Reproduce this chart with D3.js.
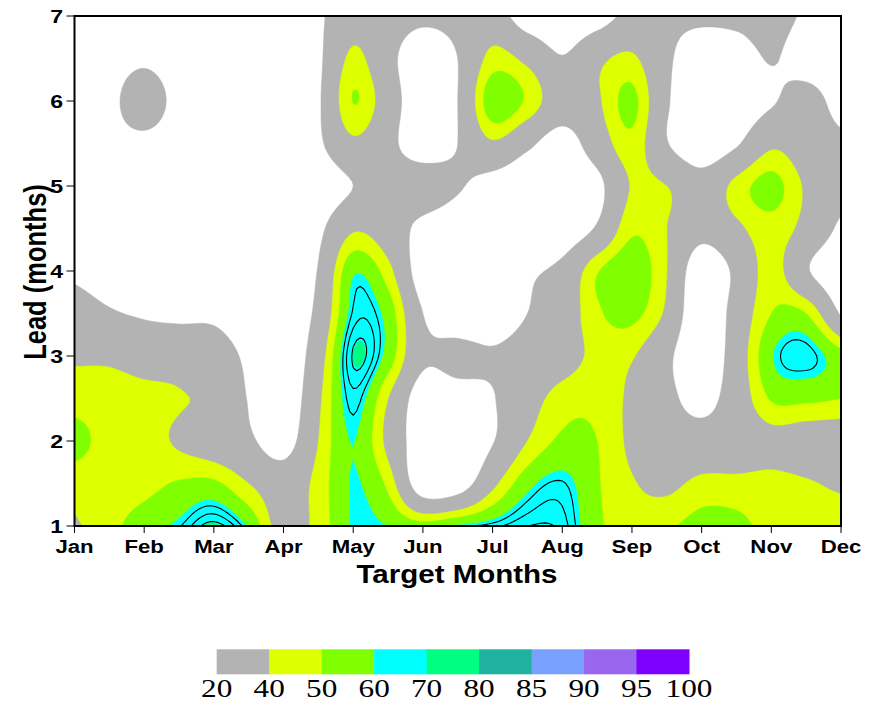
<!DOCTYPE html>
<html>
<head>
<meta charset="utf-8">
<script src="https://cdn.jsdelivr.net/npm/d3@7"></script>
<style>
  body { margin: 0; background: #fff; }
  .sans { font-family: "Liberation Sans", Arial, sans-serif; }
  .serif { font-family: "Liberation Serif", "Times New Roman", serif; }
</style>
</head>
<body>
<svg id="chart" width="874" height="704"></svg>
<script>
// Target months along x, lead time (months) along y
const months = ["Jan","Feb","Mar","Apr","May","Jun","Jul","Aug","Sep","Oct","Nov","Dec"];
const leadTicks = [1, 2, 3, 4, 5, 6, 7];

// Skill grid sampled every half month (Jan .. Dec, 23 columns) and every half lead month.
const lead1_0 = [38, 47, 55, 62, 71.5, 59, 33, 44, 61, 60, 55, 61, 64.5, 69.5, 68, 52, 45, 48, 55, 54, 45, 44, 46];
const lead1_5 = [45, 46, 47, 51, 52, 40, 30, 44, 60.5, 47, 8, 10, 36, 57, 63, 51, 41, 37, 43, 43, 43, 41, 38];
const lead2_0 = [53, 47, 45, 38, 31, 23, 12, 40, 60.2, 36, 8, 6, 19, 40, 52, 50, 37, 30, 28, 30, 35, 32, 30];
const lead2_5 = [46, 46, 44, 41, 36, 19, 6, 37, 64.5, 40, 10, 12, 19, 33, 45, 47, 37, 25, 14, 30, 51, 52, 50];
const lead3_0 = [38, 37, 33, 33, 30, 16, 5, 32, 70.2, 56, 24, 26, 22, 28, 33, 43, 41, 24, 6, 30, 59, 64.5, 54];
const lead3_5 = [30, 22, 18, 16, 16, 8, 5, 25, 63.3, 56, 20, 8, 10, 20, 30, 48, 53, 37, 5, 28, 50, 50, 18];
const lead4_0 = [16, 10, 7, 5, 5, 5, 5, 21, 58.5, 44, 10, 5, 8, 17, 25, 49, 57, 40, 8, 24, 45, 22, 5];
const lead4_5 = [8, 6, 5, 5, 5, 5, 5, 16, 38, 30, 15, 8, 5, 5, 8, 22, 48, 40, 26, 37, 46, 35, 16];
const lead5_0 = [6, 6, 5, 5, 5, 5, 5, 8, 20, 28, 30, 22, 12, 5, 5, 15, 41, 40, 28, 44, 54, 38, 28];
const lead5_5 = [6, 12, 14, 8, 5, 5, 5, 17, 37, 25, 10, 20, 38, 24, 12, 30, 47, 21, 8, 18, 37, 30, 24];
const lead6_0 = [6, 14, 32, 12, 5, 5, 5, 18, 50.3, 30, 8, 20, 57, 48, 30, 38, 53, 22, 8, 8, 18, 27, 12];
const lead6_5 = [6, 10, 16, 8, 5, 5, 5, 17, 43, 25, 10, 20, 44, 36, 21, 36, 42, 23, 10, 12, 21, 12, 8];
const lead7_0 = [6, 6, 6, 5, 5, 5, 5, 17, 32, 28, 24, 26, 30, 8, 5, 10, 26, 24, 24, 25, 28, 17, 10];

// Filled contour classes and their colours; black isolines drawn on top
const levels = [20, 40, 50, 60, 70, 80, 85, 90, 95, 100];
const levelColors = ["#b3b3b3", "#ddff00", "#80ff00", "#00ffff", "#00ff80", "#20b2a0", "#77a0ff", "#9966ee", "#8000ff"];
const lineLevels = [62.5, 66, 69.5];

const rows = [lead1_0, lead1_5, lead2_0, lead2_5, lead3_0, lead3_5, lead4_0,
              lead4_5, lead5_0, lead5_5, lead6_0, lead6_5, lead7_0];

const svg = d3.select("#chart");
const plot = { left: 74.5, right: 841, top: 16, bottom: 526 };

const x = d3.scaleLinear().domain([1, 12]).range([plot.left, plot.right]);
const y = d3.scaleLinear().domain([1, 7]).range([plot.bottom, plot.top]);

// Smooth the coarse grid with Catmull-Rom splines before contouring
const F = 10;
function cr(p0, p1, p2, p3, t) {
  const t2 = t * t, t3 = t2 * t;
  return 0.5 * (2 * p1 + (-p0 + p2) * t + (2 * p0 - 5 * p1 + 4 * p2 - p3) * t2 + (-p0 + 3 * p1 - 3 * p2 + p3) * t3);
}
function resample(arr) {
  const n = arr.length, out = [];
  const g = k => k < 0 ? 2 * arr[0] - arr[1] : k > n - 1 ? 2 * arr[n - 1] - arr[n - 2] : arr[k];
  for (let s = 0; s <= (n - 1) * F; s++) {
    let i = Math.floor(s / F); if (i >= n - 1) i = n - 2;
    const t = s / F - i;
    out.push(cr(g(i - 1), g(i), g(i + 1), g(i + 2), t));
  }
  return out;
}
const nCol = rows[0].length, nRow = rows.length;
const NX = (nCol - 1) * F + 1, NY = (nRow - 1) * F + 1;
const hRows = rows.map(resample);                 // bottom -> top
const grid = new Float64Array(NX * NY);
for (let i = 0; i < NX; i++) {
  const col = resample(hRows.map(r => r[i]));     // bottom -> top
  for (let j = 0; j < NY; j++) grid[j * NX + i] = col[NY - 1 - j]; // j = 0 at top
}

const toMonth = gx => 1 + (gx - 0.5) / F * 0.5;
const toLead = gy => 7 - (gy - 0.5) / F * 0.5;
const path = d3.geoPath(d3.geoTransform({
  point(px, py) { this.stream.point(x(toMonth(px)), y(toLead(py))); }
}));

svg.append("defs").append("clipPath").attr("id", "plotClip")
  .append("rect").attr("x", plot.left).attr("y", plot.top)
  .attr("width", plot.right - plot.left).attr("height", plot.bottom - plot.top);

const g = svg.append("g").attr("clip-path", "url(#plotClip)");
g.append("rect").attr("x", plot.left).attr("y", plot.top)
  .attr("width", plot.right - plot.left).attr("height", plot.bottom - plot.top)
  .attr("fill", "#fff");

const fills = d3.contours().size([NX, NY]).thresholds(levels.slice(0, -1))(Array.from(grid));
g.selectAll("path.band").data(fills).join("path")
  .attr("class", "band")
  .attr("d", path)
  .attr("fill", d => levelColors[levels.indexOf(d.value)])
  .attr("stroke", d => levelColors[levels.indexOf(d.value)])
  .attr("stroke-width", 0.5);

const isolines = d3.contours().size([NX, NY]).thresholds(lineLevels)(Array.from(grid));
g.selectAll("path.iso").data(isolines).join("path")
  .attr("class", "iso")
  .attr("d", path)
  .attr("fill", "none")
  .attr("stroke", "#000")
  .attr("stroke-width", 1.1);

// Frame
svg.append("rect").attr("x", plot.left).attr("y", plot.top)
  .attr("width", plot.right - plot.left).attr("height", plot.bottom - plot.top)
  .attr("fill", "none").attr("stroke", "#000").attr("stroke-width", 2);

// Month ticks and labels
const xAxis = svg.append("g").attr("class", "sans");
months.forEach((m, i) => {
  const px = x(i + 1);
  xAxis.append("line").attr("x1", px).attr("x2", px).attr("y1", plot.bottom).attr("y2", plot.bottom + 7)
    .attr("stroke", "#000").attr("stroke-width", 1);
  xAxis.append("text").text(m)
    .attr("transform", `translate(${px},553) scale(1.2,1)`)
    .attr("text-anchor", "middle").attr("font-size", 18.5).attr("font-weight", "bold");
});

// Lead ticks and labels
const yAxis = svg.append("g").attr("class", "sans");
leadTicks.forEach(v => {
  const py = y(v);
  yAxis.append("line").attr("x1", plot.left - 8).attr("x2", plot.left).attr("y1", py).attr("y2", py)
    .attr("stroke", "#000").attr("stroke-width", 1);
  yAxis.append("text").text(v)
    .attr("transform", `translate(63,${py + 6.8}) scale(1.25,1)`)
    .attr("text-anchor", "end").attr("font-size", 18.5).attr("font-weight", "bold");
});

// Axis titles
svg.append("text").attr("class", "sans").text("Target Months")
  .attr("transform", "translate(457,583) scale(1.18,1)")
  .attr("text-anchor", "middle").attr("font-size", 25).attr("font-weight", "bold");
svg.append("text").attr("class", "sans").text("Lead (months)")
  .attr("transform", "translate(35,272) rotate(-90) scale(1,1.2)")
  .attr("text-anchor", "middle").attr("dy", "0.36em")
  .attr("font-size", 25.5).attr("font-weight", "bold");

// Colour bar
const legend = { left: 216.7, right: 689, top: 649.3, bottom: 674.3 };
const lx = d3.scaleBand().domain(d3.range(levelColors.length)).range([legend.left, legend.right]).padding(0);
svg.append("g").selectAll("rect").data(levelColors).join("rect")
  .attr("x", (d, i) => lx(i)).attr("y", legend.top)
  .attr("width", lx.bandwidth() + 0.5).attr("height", legend.bottom - legend.top)
  .attr("fill", d => d);
svg.append("g").attr("class", "serif").selectAll("text").data(levels).join("text")
  .text(d => d)
  .attr("transform", (d, i) => `translate(${legend.left + i * lx.bandwidth()},697) scale(1.25,1)`)
  .attr("text-anchor", "middle")
  .attr("font-size", 25);
</script>
</body>
</html>
